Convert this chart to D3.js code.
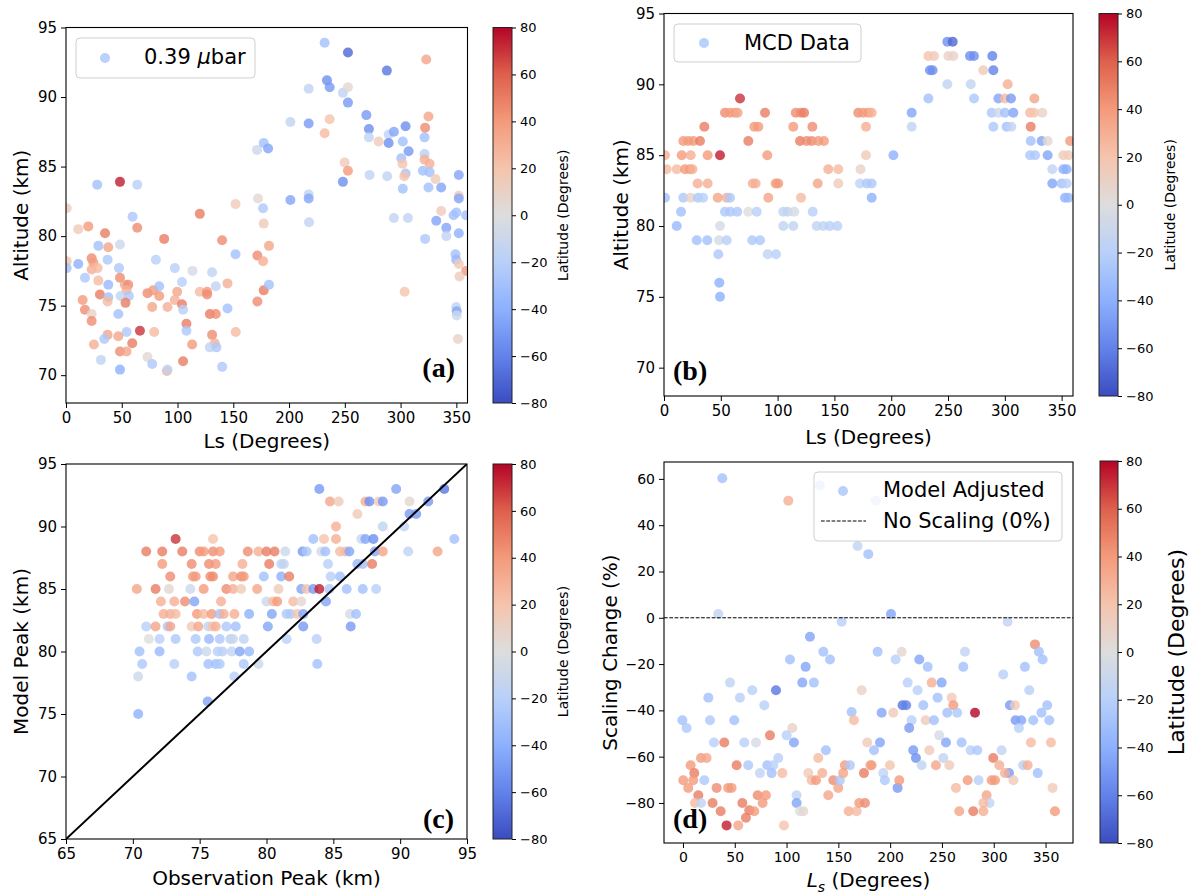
<!DOCTYPE html>
<html><head><meta charset="utf-8">
<script src="https://cdn.jsdelivr.net/npm/d3@7"></script>
<style>body{margin:0;background:#fff}svg{display:block}</style>
</head><body>
<svg id="c" width="1192" height="896"></svg>
<script>
// ---------------- DATA ----------------
// Panel (a): [Ls (deg), Altitude (km), Latitude (deg)]
const pointsA = [
[48.4,83.9,75],[28,83.7,-30],[63.9,83.7,-20],[171.3,86.2,-10],[177.3,86.7,-30],[181.2,86.3,-45],
[0.6,82.0,15],[11,80.5,15],[20,80.7,40],[35,80.2,50],[59.7,81.4,-25],[63.9,80.6,45],[120,81.6,50],
[152,82.3,15],[172.2,82.7,5],[176.7,82.0,-25],[177.3,80.9,15],[88,79.8,50],[29,79.3,-30],[37.9,79.2,35],
[48.4,79.4,-10],[140,79.7,45],[152,78.7,-30],[182,79.3,35],[171.6,78.6,45],[176.7,78.2,30],[0.6,78.2,20],
[0.6,77.7,-30],[11,78.0,-40],[23,78.4,45],[24.5,78.1,40],[23,77.6,30],[28.3,77.7,25],[17,77.0,-25],
[37.3,78.3,-25],[47.5,77.7,-25],[29,76.8,25],[48.4,77.0,45],[80.6,78.3,-20],[97.6,77.7,-20],[113.4,77.5,-5],
[131,77.4,-15],[104,76.7,-20],[134.3,76.4,-15],[144.8,76.6,30],[37.9,76.5,-35],[52.8,76.5,35],[55.8,76.5,45],
[54.3,76.1,30],[30.4,75.8,50],[37.9,75.6,-30],[49,75.7,-15],[56.4,75.7,-25],[53.4,75.2,50],[37.3,75.3,25],
[14.9,75.4,40],[17,74.7,45],[23,74.4,10],[23,73.9,45],[46.9,74.4,-30],[73.1,75.9,45],[78.2,76.1,40],
[83.6,76.4,-30],[83.6,75.7,40],[99.7,76.0,35],[97.6,75.4,30],[104,75.1,50],[105,74.7,-20],[120,76.0,25],
[126.5,76.0,40],[126.5,75.8,45],[129,74.4,50],[134.3,74.4,45],[144.8,74.8,-30],[77.3,74.9,35],[91,74.9,30],
[108,73.7,50],[108,73.2,-25],[66.3,73.2,70],[79.1,73.1,25],[54.3,73.1,-25],[37.3,72.9,35],[34.3,72.6,-25],
[46.9,72.8,35],[59.4,72.3,50],[25,72.2,30],[48.4,71.7,45],[54.3,71.7,35],[131,72.9,45],[133.4,72.3,30],
[129,72.0,-15],[134.9,72.0,-25],[113.1,72.2,40],[152.2,73.1,25],[31.3,71.1,-15],[48.4,70.4,-40],[73.1,71.3,5],
[77.3,70.8,-25],[90.5,70.3,30],[91,70.4,-15],[105,71.0,50],[140,70.6,-25],[171.6,75.3,45],[177.3,76.1,50],
[182,76.5,-30],
[231.9,93.9,-30],[252.8,93.2,-70],[287.7,91.9,-65],[323,92.7,35],[234,91.2,-55],[236.4,90.7,-50],
[217.6,90.6,-15],[248.3,90.3,-15],[252.8,90.7,5],[252.8,89.6,-50],[201.2,88.2,-15],[217.6,88.1,-50],
[236.4,88.4,20],[231.9,87.4,25],[269.3,88.7,-50],[271.6,87.7,-55],[271.6,87.1,-15],[280.3,86.8,15],
[289.3,87.3,-15],[294,87.5,-45],[289.3,86.7,-55],[304.5,87.9,-55],[302,86.8,-30],[307.2,86.1,-50],
[325,88.6,35],[321.5,87.1,-30],[322,87.8,45],[300.6,85.6,-30],[301.7,85.2,20],[304.5,84.5,-30],
[303.3,84.3,20],[302,83.4,-30],[321.5,85.9,-20],[321.5,85.5,30],[326,85.2,30],[320,84.7,-30],[326,84.6,-30],
[331.3,84.1,15],[325,83.5,-30],[336.4,83.5,-45],[352.2,84.4,-45],[352.2,82.9,15],[352.2,82.7,-45],
[336.4,81.8,15],[332,81.1,-45],[341,80.6,-45],[341,80.0,-15],[347.5,81.5,-30],[350,81.7,-30],[352.2,80.2,-40],
[358.8,81.5,-30],[322,79.8,-25],[294,81.3,-15],[306.6,81.3,-15],[272.2,84.4,-15],[288,84.3,-15],
[249.8,85.3,15],[252.8,84.7,40],[248.3,83.9,-55],[201.2,82.6,-45],[217.6,83.0,-15],[217.6,82.7,-45],
[217.9,81.0,-15],[349.2,78.7,-30],[349.8,78.3,-35],[352.2,78.0,15],[358.8,77.5,40],[352.8,77.1,15],
[303.6,76.0,20],[349.8,74.9,-15],[350.3,74.6,-45],[350.3,74.3,-10],[351.4,72.6,10]
];
// Panel (b): [Ls (deg), Altitude (km), Latitude (deg)]
const pointsB = [
[66.9,89,70],
[53.7,88,45],[58.1,88,40],[62.5,88,40],[64.8,88,35],[88.9,88,50],[116,88,45],[120.4,88,45],[123.3,88,50],
[171,88,45],[175.4,88,40],[179.8,88,40],[182.8,88,30],[218,88,-45],[288.4,88,-25],[294.3,88,-10],
[300.1,88,-30],[307.5,88,-45],[322.2,88,25],[325.7,88,20],[333,88,10],
[35.5,87,50],[79.5,87,40],[83,87,40],[113.8,87,40],[130.6,87,45],[177.8,87,30],[218,87,-15],[289.9,87,-25],
[301.6,87,-30],[305.7,87,-15],[322.8,87,50],
[17,86,40],[21.4,86,40],[25.8,86,40],[31.7,86,50],[74.2,86,50],[119.7,86,50],[125.6,86,45],[130,86,45],
[135.8,86,40],[140.8,86,40],[322.8,86,-30],[332.4,86,-45],[337.7,86,5],[357.4,86,40],
[0.9,85,30],[15.6,85,40],[23.5,85,30],[38.4,85,40],[49.3,85,75],[90.9,85,40],[177.8,85,15],[201.9,85,-40],
[322.2,85,-25],[326.6,85,-25],[337.7,85,-45],[351.5,85,15],[356,85,15],
[2.3,84,25],[11.2,84,25],[18.5,84,40],[22.9,84,40],[25,84,30],[144.6,84,30],[153.4,84,25],[173,84,10],
[341.8,84,-15],[351.5,84,-40],[354.4,84,-40],
[29.6,83,30],[38.4,83,30],[78.1,83,30],[80.7,83,30],[98.3,83,40],[100.6,83,40],[135.3,83,35],[153.4,83,15],
[172.5,83,-15],[178.4,83,-25],[182.8,83,-25],[341.8,83,-45],[350,83,-30],[354.4,83,-20],
[0.9,82,-30],[17,82,-25],[23.5,82,10],[30,82,-25],[34.4,82,-20],[47.3,82,35],[55.2,82,30],[58.1,82,-25],
[91.8,82,35],[120.6,82,25],[182.8,82,-40],[353,82,-40],[356,82,-35],
[15,81,-30],[53.7,81,-25],[58.4,81,-25],[64.5,81,-25],[74.2,81,0],[81.6,81,-20],[105,81,-15],[108.8,81,-15],
[114.7,81,-5],[130.9,81,-20],
[11.2,80,-35],[49.3,80,-5],[105,80,-15],[113.8,80,-15],[134.4,80,-15],[140.2,80,-15],[145.9,80,-20],[152.6,80,-20],
[28.8,79,-30],[38.1,79,-30],[48.4,79,-5],[55.2,79,-20],[77.7,79,-25],[84.5,79,-25],
[47.8,78,-25],[91.3,78,-15],[98.6,78,-20],
[48.7,76,-40],[49.3,75,-40],
[249.4,93,-55],[254.1,93,-70],
[232.7,92,20],[237.7,92,15],[250.3,92,10],[254.7,92,10],[269.3,92,-55],[272.8,92,-55],[289,92,-60],
[234.1,91,-55],[236.4,91,-55],[281,91,15],[289.9,91,-60],
[249.4,90,-15],[270,90,-15],[302.5,90,30],
[232.7,89,-30],[272.9,89,-25],[294.3,89,-45],[300.1,89,25],[305.4,89,-50],[326,89,35]
];
// Panel (c): [Observation peak (km), Model peak (km), Latitude (deg)]
const pointsC = [
[73.2,89,70],[76.0,89,20],[83.5,89,-30],[84.3,89,20],[85.2,89,30],[87.1,89,-10],[87.4,89,-45],[88.0,89,-55],[94.05,89,-30],
[71.0,88,50],[72.2,88,50],[73.7,88,50],[75.0,88,45],[75.3,88,40],[76.0,88,45],[76.5,88,40],[78.6,88,45],[79.4,88,30],
[80.0,88,50],[80.6,88,50],[81.4,88,-10],[82.7,88,-50],[83.0,88,-25],[84.1,88,-5],[84.4,88,-30],[85.5,88,25],
[85.9,88,25],[86.2,88,-45],[88.1,88,-45],[88.7,88,35],[90.6,88,-15],[92.8,88,35],
[72.2,87,40],[74.4,87,45],[75.7,87,45],[76.2,87,40],[78.2,87,30],[80.2,87,50],[81.1,87,-15],[81.3,87,-15],
[84.6,87,-20],[86.8,87,-35],[87.2,87,-30],[87.9,87,50],
[72.8,86,45],[74.5,86,40],[74.7,86,40],[75.8,86,45],[76.0,86,45],[77.5,86,35],[78.1,86,45],[78.3,86,40],
[79.8,86,-30],[81.1,86,-40],[81.7,86,50],[84.8,86,-20],[85.5,86,-30],
[70.3,85,35],[71.7,85,50],[72.7,85,5],[74.3,85,-10],[75.3,85,40],[77.0,85,45],[77.5,85,30],[78.1,85,15],
[79.3,85,35],[80.9,85,15],[82.6,85,-45],[83.0,85,20],[83.5,85,-50],[83.95,85,75],[84.7,85,-25],[86.0,85,-30],
[87.2,85,-30],[88.2,85,-20],
[72.1,84,30],[73.1,84,30],[73.9,84,45],[74.6,84,-45],[76.6,84,30],[80.0,84,-10],[80.5,84,25],[80.8,84,40],
[82.0,84,25],[82.6,84,5],[84.45,84,-45],
[72.3,83,30],[72.8,83,30],[73.2,83,25],[74.8,83,40],[75.3,83,25],[75.9,83,40],[76.5,83,-30],[76.8,83,30],
[77.6,83,30],[78.7,83,-40],[80.4,83,-45],[81.5,83,-25],[81.8,83,-25],[82.3,83,20],[82.75,83,-45],[86.25,83,-5],[86.7,83,-30],
[71.0,82,-20],[71.7,82,35],[72.6,82,-25],[72.8,82,35],[74.4,82,15],[74.9,82,35],[75.65,82,-15],[75.95,82,20],
[76.2,82,30],[77.0,82,-25],[77.7,82,-30],[80.1,82,-45],[82.75,82,-50],[86.3,82,-50],
[71.2,81,0],[72.0,81,-20],[73.2,81,-25],[74.7,81,-25],[75.7,81,-35],[76.5,81,-25],[77.3,81,-20],[77.5,81,-10],
[78.3,81,-15],[81.5,81,-20],[83.75,81,-20],
[70.5,80,-30],[72.0,80,-35],[74.85,80,-25],[75.5,80,-10],[76.35,80,-20],[76.7,80,-20],[77.4,80,-15],[78.0,80,-45],[78.7,80,-35],
[70.7,79,-25],[73.1,79,-20],[75.65,79,-30],[76.2,79,-30],[76.5,79,-25],[78.3,79,-25],[79.4,79,-10],[83.8,79,-30],
[70.4,78,-10],[74.4,78,-30],[77.6,78,-20],
[75.6,76,-45],[70.4,75,-40],
[83.95,93,-50],[89.7,93,-45],[93.3,93,-65],
[84.75,92,35],[85.4,92,15],[87.4,92,30],[87.7,92,-55],[88.4,92,15],[88.7,92,-50],[90.7,92,5],[92.1,92,-50],
[86.8,91,15],[90.7,91,-50],[91.2,91,-50],
[85.2,90,30],[88.7,90,-15],[90.3,90,-15]
];
// Panel (d): [Ls (deg), Scaling change (%), Latitude (deg)]
const pointsD = [
[38,60.3,-30],[101.7,50.6,30],[132.2,57.1,-25],[186,50.6,-20],[168.6,31,-15],[178.9,27.5,-30],[34.1,1.6,-15],
[153.2,-1.7,-20],[122.6,-8.2,-45],[135.5,-14.7,-30],[141.9,-18,-30],[103.3,-18,-30],[118.4,-21.2,-45],
[115.2,-28,-45],[126.4,-28,-30],[45.4,-28,-15],[24.5,-34.5,-30],[55,-34.5,-20],[66.9,-31.3,-20],[89.8,-31.3,-65],
[78.5,-37.8,-20],[172.5,-31.3,10],[-0.6,-44.3,-30],[3.5,-47.6,-25],[26.1,-44.3,-25],[49.5,-44.3,-30],
[162.8,-40.7,-30],[165,-44.3,25],[105.5,-47.6,10],[100.1,-50.8,-20],[84,-50.8,50],[29.9,-53.9,-20],
[39.9,-53.9,50],[59.2,-53.9,-20],[70.5,-53.9,-5],[107.1,-53.9,-45],[138,-57.2,-30],[177.9,-53.9,15],
[17.4,-60.6,40],[22.8,-60.6,35],[7.4,-63.7,40],[10.9,-67.1,50],[0.3,-70.2,40],[5.1,-73.5,40],[9.9,-70.2,40],
[20.6,-70.2,-25],[14.8,-76.7,50],[11.6,-80,25],[17.4,-80,-15],[28.6,-80,50],[32.5,-73.5,45],[36.4,-83.6,50],
[42.1,-89.7,75],[53.4,-89.7,35],[43.7,-73.5,40],[46.9,-73.5,40],[51.8,-63.7,50],[57.3,-80,50],[63,-63.7,-25],
[60.8,-86.4,50],[64,-83.2,50],[68.8,-83.6,40],[72.1,-76.7,45],[80.1,-76.7,40],[76.9,-80,40],[74.3,-67.1,-15],
[81.4,-63.7,-30],[87.2,-63.7,-20],[85.6,-67.1,-30],[92,-60.6,-20],[95.9,-67.1,25],[97.5,-89.7,20],
[109.7,-76.7,-15],[109.7,-80,-45],[112.9,-83.6,0],[116.2,-83.6,5],[121,-67.1,15],[124.2,-70.2,25],
[128.4,-70.2,40],[130.6,-60.6,25],[134.5,-67.1,30],[140.3,-76.7,35],[145.1,-70.2,45],[149.9,-73.5,35],
[151.5,-70.2,-25],[154.7,-67.1,35],[156.3,-63.7,40],[161.2,-63.7,-25],[160,-83.6,30],[167.6,-83.6,25],
[170.2,-80,40],[175.7,-80,45],[174.7,-67.1,50],[180.8,-63.7,30],
[200.8,1.6,-45],[313.4,-1.7,-15],[339.8,-11.5,45],[343.6,-14.7,-30],[347.2,-18,-30],[187.9,-14.7,-30],
[205.3,-18,-20],[211.1,-14.7,5],[228.1,-18,-45],[236.2,-21.2,-30],[272.2,-14.7,-15],[270.6,-21.2,-30],
[330.1,-21.2,-30],[309.2,-24.5,-20],[216.9,-28,-20],[240.1,-28,30],[249.7,-28,-45],[226.5,-31.3,-20],
[245.8,-34.5,-30],[259.4,-34.5,15],[261,-37.8,40],[334.3,-31.3,-20],[212,-37.8,-65],[215.5,-37.8,-60],
[232,-37.8,-30],[191.8,-41,-45],[203,-41,15],[281.9,-41,80],[255.1,-41,-30],[264.7,-41,-25],[315.6,-37.8,-50],
[320.5,-37.8,15],[321.1,-44.3,-50],[326.5,-44.3,-45],[324.3,-47.6,-20],[338.1,-44.3,-30],[346.1,-41,-30],
[351.6,-37.8,-30],[353.6,-44.3,-30],[220.7,-44.3,-20],[234.3,-44.3,15],[242.3,-44.3,-30],[218.4,-47.6,-50],
[247.4,-50.8,-5],[190.2,-53.9,-45],[184.4,-57.2,-30],[237.8,-57.2,15],[253.9,-53.9,-45],[269,-53.9,-30],
[277.7,-57.2,-20],[284.1,-57.2,-25],[222.3,-57.2,-50],[224.9,-60.6,-55],[230.4,-63.7,-15],[244.2,-63.7,35],
[251.3,-60.6,-15],[257.1,-63.7,15],[299.5,-60.6,50],[307.6,-57.2,-15],[305.4,-63.7,30],[314.7,-67.1,-50],
[310.8,-67.1,30],[319,-70.2,15],[328.4,-63.7,-20],[332.7,-63.7,30],[342.4,-67.1,-30],[335.9,-53.9,25],
[355.2,-53.9,25],[356.8,-73.5,15],[359.1,-83.6,40],[182.1,-63.7,40],[199.8,-63.7,20],[193.4,-67.1,-15],
[194.9,-70.2,-25],[207.2,-73.5,-50],[208.8,-70.2,40],[263.5,-73.5,25],[274.8,-70.2,40],[285.3,-70.2,-20],
[293.1,-76.7,35],[295.9,-80,-15],[290,-80,25],[301.2,-70.2,40],[298,-70.2,40],[266.7,-83.6,35],
[280.2,-83.6,50],[290,-83.6,30]
];
const lsTicks = [0,50,100,150,200,250,300,350];
const altTicks = [70,75,80,85,90,95];
const peakTicks = [65,70,75,80,85,90,95];
const scaleTicks = [-80,-60,-40,-20,0,20,40,60];
const cbTicks = [-80,-60,-40,-20,0,20,40,60,80];
const legendLat = -27;

// ---------------- DRAW ----------------
const svg = d3.select('#c');
const FONT = "'DejaVu Sans', sans-serif";
const cwStops = [[59,76,192],[98,130,234],[141,176,254],[184,208,249],[221,221,221],[245,196,173],[244,154,123],[222,96,77],[180,4,38]];
const cwDomain = d3.range(9).map(i => -80 + i*20);
const coolwarm = d3.scaleLinear().domain(cwDomain).range(cwStops.map(c => `rgb(${c[0]},${c[1]},${c[2]})`)).interpolate(d3.interpolateRgb).clamp(true);
const fmt = d => d < 0 ? '\u2212' + Math.abs(d) : String(d);

const defs = svg.append('defs');
const grad = defs.append('linearGradient').attr('id','cw').attr('x1',0).attr('y1',1).attr('x2',0).attr('y2',0);
cwDomain.forEach((v,i) => grad.append('stop').attr('offset', (i/8)).attr('stop-color', coolwarm(v)));

function panel(o){
  const x = d3.scaleLinear().domain(o.xdom).range([o.left,o.right]);
  const y = d3.scaleLinear().domain(o.ydom).range([o.bottom,o.top]);
  defs.append('clipPath').attr('id','clip'+o.name).append('rect')
    .attr('x',o.left).attr('y',o.top).attr('width',o.right-o.left).attr('height',o.bottom-o.top);
  const g = svg.append('g');
  const inner = g.append('g').attr('clip-path',`url(#clip${o.name})`);
  inner.selectAll('circle').data(o.pts).join('circle')
    .attr('cx',d=>x(d[0])).attr('cy',d=>y(d[1])).attr('r',5)
    .attr('fill',d=>coolwarm(d[2])).attr('fill-opacity',0.8);
  if (o.extra) o.extra(inner,x,y);
  const ax = g.append('g').attr('transform',`translate(0,${o.bottom})`)
    .call(d3.axisBottom(x).tickValues(o.xticks).tickFormat(fmt).tickSize(5).tickPadding(4));
  const ay = g.append('g').attr('transform',`translate(${o.left},0)`)
    .call(d3.axisLeft(y).tickValues(o.yticks).tickFormat(fmt).tickSize(5).tickPadding(4));
  [ax,ay].forEach(a => {
    a.select('.domain').remove();
    a.selectAll('text').attr('font-family',FONT).attr('font-size',o.tickFs).attr('fill','#000');
    a.selectAll('line').attr('stroke','#000').attr('stroke-width',1);
  });
  g.append('rect').attr('x',o.left).attr('y',o.top).attr('width',o.right-o.left).attr('height',o.bottom-o.top)
    .attr('fill','none').attr('stroke','#000').attr('stroke-width',1.1);
  // axis labels
  const xl = g.append('text').attr('x',(o.left+o.right)/2).attr('y',o.xlabY).attr('text-anchor','middle')
    .attr('font-family',FONT).attr('font-size',20);
  if (o.xlabelMath) {
    xl.append('tspan').attr('font-style','italic').text('L');
    xl.append('tspan').attr('font-style','italic').attr('font-size',14).attr('dy',5).text('s');
    xl.append('tspan').attr('dy',-5).text(' (Degrees)');
  } else xl.text(o.xlabel);
  g.append('text').attr('transform',`translate(${o.ylabX},${(o.top+o.bottom)/2}) rotate(-90)`)
    .attr('text-anchor','middle').attr('font-family',FONT).attr('font-size',20).text(o.ylabel);
  // panel letter
  g.append('text').attr('x',o.letter[0]).attr('y',o.letter[1]).attr('text-anchor',o.letter[2])
    .attr('font-family',"'Liberation Serif','Times New Roman',serif").attr('font-weight','bold')
    .attr('font-size',28).text(o.letter[3]);
  return {x,y,g};
}

function colorbar(o){
  const s = d3.scaleLinear().domain([-80,80]).range([o.bottom,o.top]);
  const g = svg.append('g');
  g.append('rect').attr('x',o.left).attr('y',o.top).attr('width',o.w).attr('height',o.bottom-o.top)
    .attr('fill','url(#cw)').attr('stroke','#222').attr('stroke-width',1);
  const a = g.append('g').attr('transform',`translate(${o.left+o.w},0)`)
    .call(d3.axisRight(s).tickValues(cbTicks).tickFormat(fmt).tickSize(4).tickPadding(4));
  a.select('.domain').remove();
  a.selectAll('text').attr('font-family',FONT).attr('font-size',13).attr('fill','#000');
  a.selectAll('line').attr('stroke','#000');
  g.append('text').attr('transform',`translate(${o.labX},${(o.top+o.bottom)/2}) rotate(-90)`)
    .attr('text-anchor','middle').attr('font-family',FONT).attr('font-size',o.labFs).text('Latitude (Degrees)');
}

function legendBox(x,y,w,h){
  svg.append('rect').attr('x',x).attr('y',y).attr('width',w).attr('height',h).attr('rx',4)
    .attr('fill','#fff').attr('fill-opacity',0.8).attr('stroke','#cfcfcf').attr('stroke-width',1);
}
function legendDot(cx,cy){
  svg.append('circle').attr('cx',cx).attr('cy',cy).attr('r',5).attr('fill',coolwarm(legendLat)).attr('fill-opacity',0.8);
}

// (a)
panel({name:'a',left:66,right:467.5,top:27.5,bottom:403,xdom:[0,360],ydom:[68,95],
  xticks:lsTicks,yticks:altTicks,pts:pointsA,tickFs:15,xlabel:'Ls (Degrees)',ylabel:'Altitude (km)',
  xlabY:448,ylabX:28,letter:[455,377,'end','(a)']});
colorbar({left:493,w:19,top:27.5,bottom:403,labX:568,labFs:14});
legendBox(76,38,179,40); legendDot(105,58);
const ta = svg.append('text').attr('x',144).attr('y',63.5).attr('font-family',FONT).attr('font-size',21);
ta.append('tspan').text('0.39 ');
ta.append('tspan').attr('font-style','italic').text('\u03bc');
ta.append('tspan').text('bar');

// (b)
panel({name:'b',left:664,right:1073,top:13.5,bottom:396,xdom:[0,360],ydom:[68,95],
  xticks:lsTicks,yticks:altTicks,pts:pointsB,tickFs:15,xlabel:'Ls (Degrees)',ylabel:'Altitude (km)',
  xlabY:444,ylabX:628,letter:[673,380,'start','(b)']});
colorbar({left:1099,w:19,top:13.5,bottom:396,labX:1175,labFs:14});
legendBox(674,24,187,38); legendDot(704,43);
svg.append('text').attr('x',744).attr('y',49.5).attr('font-family',FONT).attr('font-size',21).text('MCD Data');

// (c)
panel({name:'c',left:66,right:467,top:464,bottom:839,xdom:[65,95],ydom:[65,95],
  xticks:peakTicks,yticks:peakTicks,pts:pointsC,tickFs:15,xlabel:'Observation Peak (km)',ylabel:'Model Peak (km)',
  xlabY:885,ylabX:28,letter:[454,828,'end','(c)'],
  extra:(g,x,y)=>{ g.append('line').attr('x1',x(65)).attr('y1',y(65)).attr('x2',x(95)).attr('y2',y(95))
      .attr('stroke','#000').attr('stroke-width',2); }});
colorbar({left:493,w:19,top:464,bottom:839,labX:568,labFs:14});

// (d)
panel({name:'d',left:664,right:1073,top:462,bottom:843,xdom:[-18.3,376.5],ydom:[-97.3,67.3],
  xticks:lsTicks,yticks:scaleTicks,pts:pointsD,tickFs:14,xlabelMath:true,ylabel:'Scaling Change (%)',
  xlabY:887,ylabX:617,letter:[673,828,'start','(d)'],
  extra:(g,x,y)=>{ g.append('line').attr('x1',x(-18.3)).attr('x2',x(376.5)).attr('y1',y(0)).attr('y2',y(0))
      .attr('stroke','#000').attr('stroke-width',1).attr('stroke-dasharray','3.7,1.6'); }});
colorbar({left:1100,w:18,top:461,bottom:843,labX:1184,labFs:22});
legendBox(814,472,248,69); legendDot(843,491);
svg.append('text').attr('x',883).attr('y',497).attr('font-family',FONT).attr('font-size',21).text('Model Adjusted');
svg.append('line').attr('x1',821).attr('x2',866).attr('y1',521).attr('y2',521).attr('stroke','#000').attr('stroke-width',1).attr('stroke-dasharray','3.7,1.6');
svg.append('text').attr('x',883).attr('y',527.5).attr('font-family',FONT).attr('font-size',21).text('No Scaling (0%)');
</script>
</body></html>
